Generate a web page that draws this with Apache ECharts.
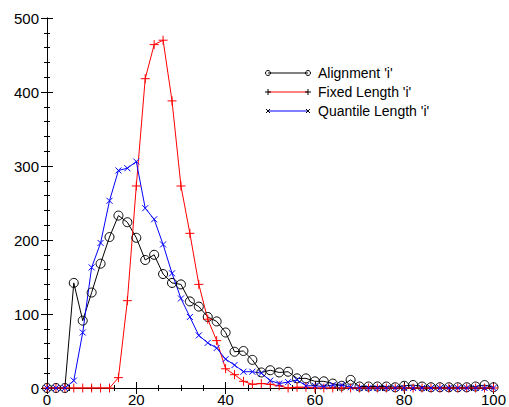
<!DOCTYPE html>
<html>
<head>
<meta charset="utf-8">
<script src="https://cdn.jsdelivr.net/npm/echarts@6/dist/echarts.min.js"></script>
<style>
  html, body { margin: 0; padding: 0; background: #fff; }
  #chart { width: 509px; height: 407px; }
</style>
</head>
<body>
<div id="chart"></div>
<script>
// x positions of the histogram bins
const xs = [0, 2, 4, 6, 8, 10, 12, 14, 16, 18, 20, 22, 24, 26, 28, 30, 32, 34, 36, 38, 40,
  42, 44, 46, 48, 50, 52, 54, 56, 58, 60, 62, 64, 66, 68, 70, 72, 74, 76, 78, 80,
  82, 84, 86, 88, 90, 92, 94, 96, 98, 100];

// Alignment 'i'
const alignment = [0, 0, 0, 142, 91, 129, 168, 204, 233, 224, 203, 173, 180, 154, 142, 140, 117, 110, 96, 90, 75,
  49, 50, 38, 21, 24, 21, 22, 13, 13, 9, 9, 6, 3, 11, 2, 2, 2, 2, 1, 3,
  4, 2, 1, 1, 1, 1, 1, 2, 4, 1];

// Fixed Length 'i'
const fixedLength = [0, 0, 0, 0, 0, 0, 0, 0, 14, 118, 273, 418, 464, 470, 388, 273, 209, 140, 93, 64, 26,
  18, 9, 5, 6, 5, 3, 0, 1, 1, 0, 0, 0, 0, 0, 0, 0, 0, 0, 0, 0,
  0, 0, 0, 0, 0, 0, 0, 0, 0, 0];

// Quantile Length 'i'
const quantileLength = [0, 0, 0, 10, 75, 163, 196, 253, 294, 297, 306, 243, 228, 194, 155, 121, 96, 71, 61, 54, 39,
  31, 22, 22, 20, 10, 6, 8, 11, 3, 3, 2, 4, 4, 1, 0, 0, 0, 0, 0, 0,
  0, 0, 0, 0, 0, 0, 0, 0, 0, 0];

const xTicks = { min: 0, max: 100, interval: 20 };
const yTicks = { min: 0, max: 500, interval: 100 };

const pairs = ys => xs.map((x, i) => [x, ys[i]]);

const FONT = '"Liberation Sans", Arial, Helvetica, sans-serif';
const plusPath = 'path://M-5,0L5,0M0,-5L0,5';
const crossPath = 'path://M-5,-5L5,5M-5,5L5,-5';

function axisBase(pos, ticks, minorSplit, showLabel) {
  return {
    type: 'value',
    position: pos,
    min: ticks.min,
    max: ticks.max,
    interval: ticks.interval,
    axisLine: { show: true, lineStyle: { color: '#000', width: 1 } },
    axisTick: { show: true, inside: true, length: 6, lineStyle: { color: '#000' } },
    minorTick: { show: true, splitNumber: minorSplit, length: 3, lineStyle: { color: '#000' } },
    splitLine: { show: false },
    axisLabel: {
      show: showLabel,
      color: '#000',
      fontSize: 15,
      fontFamily: FONT,
      margin: pos === 'bottom' ? 4 : 8
    }
  };
}

// legend drawn gnuplot-style: a short line with a marker at each end
const legendRows = [
  { name: "Alignment 'i'", color: '#000', mark: 'circle', y: 73 },
  { name: "Fixed Length 'i'", color: '#ff0000', mark: 'plus', y: 92 },
  { name: "Quantile Length 'i'", color: '#0000ff', mark: 'cross', y: 111 }
];
const lx1 = 268, lx2 = 308;
function marker(kind, cx, cy) {
  const st = { stroke: '#000', lineWidth: 1, fill: null };
  if (kind === 'circle') return [{ type: 'circle', shape: { cx: cx, cy: cy, r: 2.5 }, style: st }];
  if (kind === 'plus') return [
    { type: 'line', shape: { x1: cx - 3, y1: cy, x2: cx + 3, y2: cy }, style: st },
    { type: 'line', shape: { x1: cx, y1: cy - 3, x2: cx, y2: cy + 3 }, style: st }
  ];
  return [
    { type: 'line', shape: { x1: cx - 2, y1: cy - 2, x2: cx + 2, y2: cy + 2 }, style: st },
    { type: 'line', shape: { x1: cx - 2, y1: cy + 2, x2: cx + 2, y2: cy - 2 }, style: st }
  ];
}
const legendGraphics = [];
legendRows.forEach(r => {
  legendGraphics.push({ type: 'line', shape: { x1: lx1, y1: r.y, x2: lx2, y2: r.y }, style: { stroke: r.color, lineWidth: 1 } });
  legendGraphics.push(...marker(r.mark, lx1, r.y), ...marker(r.mark, lx2, r.y));
  legendGraphics.push({
    type: 'text', x: 318, y: r.y,
    style: { text: r.name, fill: '#000', font: '14px ' + FONT, textVerticalAlign: 'middle', verticalAlign: 'middle' }
  });
});

const chart = echarts.init(document.getElementById('chart'), null, { renderer: 'svg' });
chart.setOption({
  animation: false,
  backgroundColor: '#fff',
  grid: { left: 47, right: 13, top: 18, bottom: 19 },
  xAxis: [axisBase('bottom', xTicks, 4, true), axisBase('top', xTicks, 4, false)],
  yAxis: [axisBase('left', yTicks, 5, true), axisBase('right', yTicks, 5, false)],
  graphic: legendGraphics,
  series: [
    {
      name: "Alignment 'i'",
      type: 'line',
      data: pairs(alignment),
      symbol: 'circle',
      symbolSize: 9,
      lineStyle: { color: '#000', width: 1 },
      itemStyle: { color: 'rgba(0,0,0,0)', borderColor: '#000', borderWidth: 1 },
      emphasis: { disabled: true }
    },
    {
      name: "Fixed Length 'i'",
      type: 'line',
      data: pairs(fixedLength),
      symbol: plusPath,
      symbolSize: 9,
      lineStyle: { color: '#ff0000', width: 1 },
      itemStyle: { color: 'rgba(0,0,0,0)', borderColor: '#ff0000', borderWidth: 1 },
      emphasis: { disabled: true }
    },
    {
      name: "Quantile Length 'i'",
      type: 'line',
      data: pairs(quantileLength),
      symbol: crossPath,
      symbolSize: 6,
      lineStyle: { color: '#0000ff', width: 1 },
      itemStyle: { color: 'rgba(0,0,0,0)', borderColor: '#0000ff', borderWidth: 1 },
      emphasis: { disabled: true }
    }
  ]
});
</script>
</body>
</html>
